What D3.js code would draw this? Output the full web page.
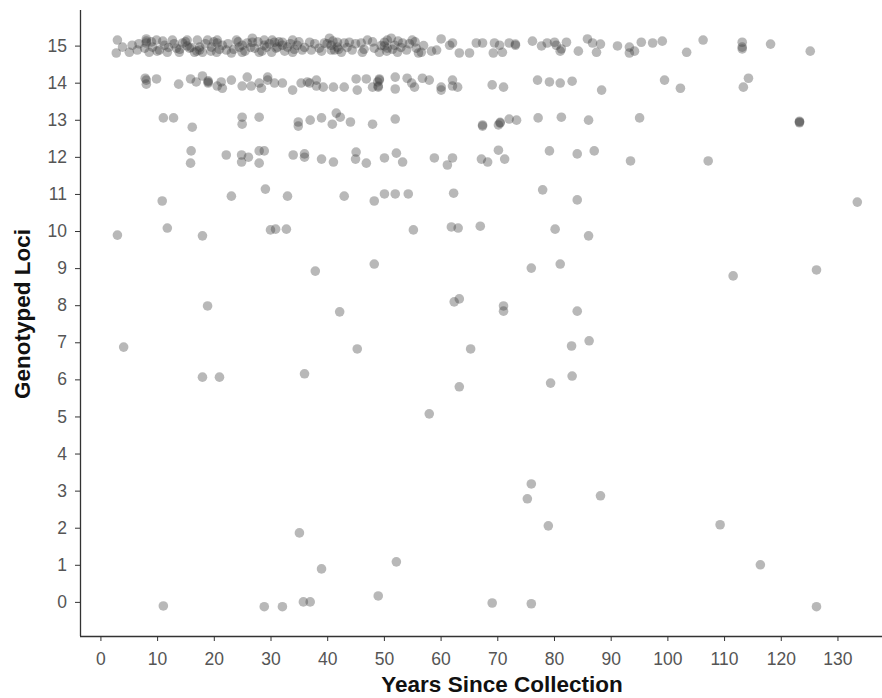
<!DOCTYPE html>
<html><head><meta charset="utf-8">
<script src="https://cdn.jsdelivr.net/npm/d3@7"></script>
<style>body{margin:0;background:#fff}svg{display:block}</style>
</head><body>
<svg id="c" width="882" height="698"></svg>
<script>
// Years since collection (x) and genotyped loci (y, as plotted with jitter)
const years = [
 3.0,3.9,2.8,5.6,5.1,6.5,8.1,8.1,7.8,8.6,9.9,9.2,10.4,11.3,11.8,12.7,13.4,13.9,14.5,15.3,15.7,16.6,17.1,17.5,18.0,18.9,19.6,20.5,20.6,21.5,22.2,23.1,24.0,24.5,25.0,25.9,26.8,27.2,28.0,28.9,29.3,30.2,30.7,31.2,
 8.1,15.3,17.5,20.6,25.0,26.8,28.9,
 30.3,31.0,32.1,33.0,33.9,33.9,34.7,35.6,36.9,37.2,38.6,39.5,40.4,40.7,41.3,41.8,42.5,43.9,44.4,46.0,46.2,47.1,48.3,49.2,50.1,50.6,51.3,51.9,52.4,53.3,54.0,55.0,55.7,56.6,
 32.1,41.8,43.0,50.1,50.6,40.7,
 6.8,9.0,10.0,11.0,12.0,13.0,14.0,15.0,16.0,17.0,18.5,19.5,20.0,21.0,22.5,23.5,24.3,25.5,26.5,27.8,28.5,29.8,31.5,32.5,33.5,34.2,35.0,36.0,37.8,39.0,40.0,41.0,42.0,43.5,45.0,46.5,48.0,49.5,50.5,51.5,52.5,53.0,54.5,55.5,57.0,
 56.1,58.4,59.3,60.1,61.6,62.1,63.3,65.1,66.3,67.4,69.3,69.5,70.4,70.9,72.1,73.2,73.2,76.2,77.8,78.8,80.1,80.4,81.1,81.3,82.2,84.3,85.9,86.8,87.5,88.2,91.2,93.3,93.3,94.2,95.4,97.4,99.1,103.4,106.3,113.2,113.2,113.2,118.2,125.2,
 // 14
 8.1,8.1,7.9,9.9,13.8,15.9,16.9,18.0,19.0,19.0,19.0,20.6,21.3,21.5,23.1,25.0,25.9,26.6,28.0,28.4,29.5,29.5,30.7,32.1,33.9,35.4,36.5,36.9,38.1,38.1,39.3,41.1,43.0,45.1,45.3,46.9,48.0,48.9,49.2,49.2,49.0,49.0,52.0,52.0,54.1,54.9,55.4,56.8,58.0,60.1,60.1,62.1,62.1,63.0,69.1,71.1,77.1,79.2,81.1,83.2,88.4,99.5,102.3,113.4,114.3,
 // 13
 11.1,12.9,16.2,25.0,25.0,28.0,34.9,34.9,37.0,39.0,40.9,41.6,42.3,44.1,48.0,52.0,67.4,67.4,70.2,70.5,70.5,72.1,73.4,77.2,81.3,86.1,95.1,123.3,123.3,123.3,
 // 12
 16.0,15.9,22.2,24.9,24.9,26.1,28.0,28.9,28.0,34.0,36.0,36.0,39.0,41.1,45.1,45.0,46.9,50.1,52.2,53.3,58.9,62.1,61.2,67.2,68.3,70.2,71.3,79.2,84.1,87.1,93.5,107.2,
 // 11
 10.9,23.1,29.1,33.0,43.0,48.3,50.1,52.0,54.3,62.3,78.0,84.1,133.5,
 // 10
 3.0,11.8,18.0,30.0,30.9,32.8,55.2,61.9,63.1,67.0,80.2,86.1,
 // 9
 37.9,48.3,76.0,81.1,111.6,126.3,
 // 8
 18.9,42.2,62.4,63.3,71.1,71.1,84.1,
 // 7
 4.1,45.3,65.3,83.1,86.2,
 // 6, 5
 18.0,21.0,36.0,63.3,79.4,83.2,58.0,
 // 3, 2, 1
 76.0,75.3,88.2,79.0,109.3,35.1,39.0,52.2,116.4,
 // 0
 11.1,28.9,32.1,35.8,37.0,49.0,69.1,76.0,126.3
];
const loci = [
 15.15,14.96,14.80,15.01,14.82,14.88,15.18,15.07,14.93,14.82,15.15,14.96,14.88,15.01,14.82,15.15,14.93,14.82,15.07,15.15,14.93,14.82,15.15,14.96,14.82,15.15,14.96,14.82,15.15,15.01,14.88,14.80,15.15,14.96,14.82,15.07,15.20,14.93,14.82,15.15,14.96,14.82,15.09,14.96,
 15.12,14.99,14.88,15.07,15.01,15.09,15.01,
 15.15,14.93,15.09,14.96,15.15,14.82,15.01,14.88,15.09,14.88,14.93,15.07,15.20,15.01,14.88,15.09,14.82,15.09,14.88,15.07,14.82,15.15,14.93,14.82,15.09,14.93,15.20,15.01,14.82,15.07,14.88,15.15,14.93,14.82,
 15.01,14.96,15.07,14.99,15.15,14.88,
 15.05,15.10,14.85,15.12,14.95,15.05,14.90,15.10,14.95,14.85,15.05,14.85,15.10,14.90,15.05,14.90,15.10,14.85,14.95,15.10,14.85,15.05,15.10,14.85,15.05,14.90,15.10,14.95,15.05,14.85,15.05,15.12,14.90,14.95,15.05,14.90,15.10,15.00,14.85,14.90,15.12,14.95,15.05,15.10,15.00,
 14.80,14.85,14.88,15.18,15.01,15.07,14.80,14.80,15.07,15.07,14.80,15.07,15.01,14.82,15.07,15.01,15.04,15.12,14.99,15.07,15.09,15.01,14.85,14.91,15.09,14.85,15.18,15.07,14.82,15.04,14.99,14.96,14.80,14.85,15.09,15.07,15.12,14.82,15.15,15.09,14.96,14.91,15.04,14.85,
 // 14
 14.07,13.96,14.12,14.10,13.96,14.10,14.02,14.18,14.02,14.05,13.99,13.91,14.02,13.85,14.07,13.91,14.15,13.91,13.99,13.85,14.15,14.07,13.99,13.99,13.80,13.99,14.02,13.99,14.07,13.91,13.88,13.88,13.88,14.10,13.80,14.10,13.88,14.02,14.10,14.07,13.88,13.91,14.15,13.83,14.12,13.99,13.88,14.12,14.07,13.88,13.80,14.07,13.91,13.88,13.94,13.88,14.07,14.02,13.99,14.04,13.80,14.07,13.85,13.88,14.12,
 // 13
 13.05,13.05,12.80,13.07,12.88,13.07,12.94,12.83,12.99,13.05,12.88,13.18,13.07,12.94,12.88,13.02,12.83,12.86,12.86,12.91,12.93,13.02,12.99,13.05,13.07,12.99,13.05,12.94,12.96,12.92,
 // 12
 12.16,11.83,12.05,12.05,11.86,11.99,12.16,12.16,11.83,12.05,12.08,11.99,11.94,11.86,12.13,11.94,11.83,11.97,12.10,11.86,11.97,11.97,11.78,11.94,11.86,12.18,11.94,12.16,12.08,12.16,11.89,11.89,
 // 11
 10.81,10.94,11.13,10.94,10.94,10.81,11.00,11.00,11.00,11.02,11.11,10.84,10.78,
 // 10
 9.89,10.08,9.87,10.03,10.05,10.05,10.03,10.11,10.08,10.13,10.05,9.87,
 // 9
 8.92,9.11,9.00,9.11,8.79,8.95,
 // 8
 7.98,7.82,8.09,8.17,7.98,7.84,7.84,
 // 7
 6.87,6.82,6.82,6.90,7.04,
 // 6, 5
 6.06,6.06,6.15,5.80,5.90,6.09,5.07,
 // 3, 2, 1
 3.18,2.78,2.86,2.05,2.08,1.86,0.89,1.08,1.00,
 // 0
 -0.11,-0.13,-0.13,0.0,0.0,0.16,-0.03,-0.05,-0.13
];
const xTicks = [0,10,20,30,40,50,60,70,80,90,100,110,120,130];
const yTicks = [0,1,2,3,4,5,6,7,8,9,10,11,12,13,14,15];
const xTitle = "Years Since Collection";
const yTitle = "Genotyped Loci";

const svg = d3.select("#c");
const x = d3.scaleLinear().domain([-3.6, 140.5]).range([80, 897]);
const y = d3.scaleLinear().domain([-0.92, 15.96]).range([636, 10]);

const pts = years.map((v,i)=>({x:v,y:loci[i]}));
svg.append("g").selectAll("circle").data(pts).join("circle")
  .attr("cx", d=>x(d.x)).attr("cy", d=>y(d.y)).attr("r", 4.8)
  .attr("fill", "#3a3a3a").attr("fill-opacity", 0.36);

const font = "'Liberation Sans', Arial, sans-serif";
const gx = svg.append("g").attr("transform","translate(0,636)")
  .call(d3.axisBottom(x).tickValues(xTicks).tickSizeOuter(0).tickSize(5).tickPadding(12));
const gy = svg.append("g").attr("transform","translate(80,0)")
  .call(d3.axisLeft(y).tickValues(yTicks).tickSizeOuter(0).tickSize(5).tickPadding(8));
[gx,gy].forEach(g=>{
  g.select(".domain").attr("stroke","#333").attr("stroke-width",1.3);
  g.selectAll(".tick line").attr("stroke","#333").attr("stroke-width",1);
  g.selectAll(".tick text").attr("fill","#555").style("font-family",font).style("font-size","17.5px");
});
gx.select(".domain").attr("d","M80,0.5H882");
gy.select(".domain").attr("d","M0.5,10V636");

svg.append("text").attr("x", 502).attr("y", 692).attr("text-anchor","middle")
  .style("font-family",font).style("font-weight","bold").style("font-size","22.5px").attr("fill","#111")
  .text(xTitle);
svg.append("text").attr("transform","translate(30,314) rotate(-90)").attr("text-anchor","middle")
  .style("font-family",font).style("font-weight","bold").style("font-size","22.5px").attr("fill","#111")
  .text(yTitle);
</script>
</body></html>
